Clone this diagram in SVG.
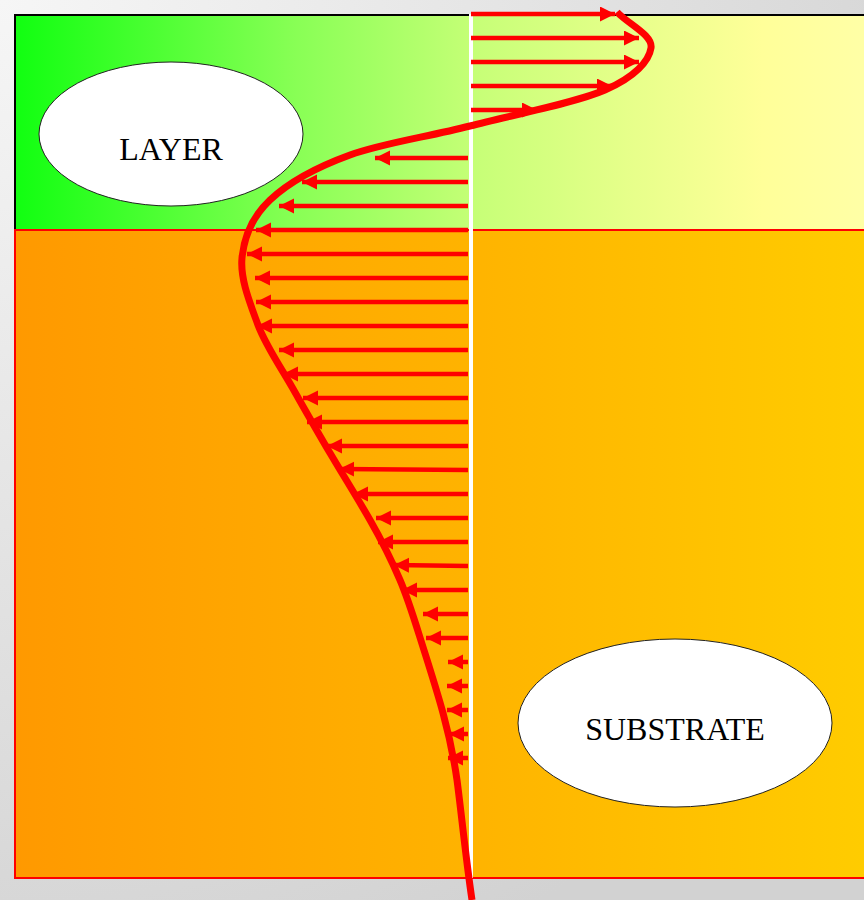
<svg xmlns="http://www.w3.org/2000/svg" width="864" height="900" viewBox="0 0 864 900">
<defs>
<radialGradient id="bg" gradientUnits="userSpaceOnUse" cx="0" cy="0" r="1050">
<stop offset="0" stop-color="#f6f6f6"/>
<stop offset="1" stop-color="#d2d2d2"/>
</radialGradient>
<linearGradient id="gLayer" gradientUnits="userSpaceOnUse" x1="15" y1="0" x2="864" y2="0">
<stop offset="0" stop-color="#11ff11"/>
<stop offset="0.33" stop-color="#88ff55"/>
<stop offset="0.55" stop-color="#c8ff78"/>
<stop offset="0.72" stop-color="#e6ff8a"/>
<stop offset="0.88" stop-color="#ffff99"/>
<stop offset="1" stop-color="#ffffa6"/>
</linearGradient>
<linearGradient id="gSub" gradientUnits="userSpaceOnUse" x1="15" y1="0" x2="864" y2="0">
<stop offset="0" stop-color="#ff9900"/>
<stop offset="0.55" stop-color="#ffb400"/>
<stop offset="1" stop-color="#ffcc00"/>
</linearGradient>
<marker id="ah" markerUnits="userSpaceOnUse" markerWidth="16" markerHeight="16" refX="15" refY="7.5" orient="auto" viewBox="0 0 16 16">
<path d="M0,0 L15,7.5 L0,15 Z" fill="#ff0000"/>
</marker>
<style>
.arr{stroke:#ff0000;stroke-width:4.5;fill:none;marker-end:url(#ah)}
.lbl{font-family:"Liberation Serif","Times New Roman",serif;font-size:32px;fill:#000;text-anchor:middle}
.ell{fill:#fff;stroke:#222;stroke-width:1}
</style>
</defs>
<rect x="0" y="0" width="864" height="900" fill="url(#bg)"/>
<g id="layer">
<rect x="15" y="15" width="870" height="215" fill="url(#gLayer)" stroke="#000" stroke-width="2"/>
</g>
<g id="substrate">
<rect x="15" y="230" width="870" height="648" fill="url(#gSub)" stroke="#ff0000" stroke-width="2"/>
</g>
<line x1="471" y1="14" x2="471" y2="878" stroke="#fff" stroke-width="4"/>
<g id="layer-label">
<ellipse class="ell" cx="171" cy="134" rx="132" ry="72"/>
<text class="lbl" x="171" y="160">LAYER</text>
</g>
<g id="substrate-label">
<ellipse class="ell" cx="675" cy="723" rx="157" ry="84"/>
<text class="lbl" x="675" y="740">SUBSTRATE</text>
</g>
<g id="connectors">
<line class="arr" x1="471" y1="14" x2="615" y2="14"/>
<line class="arr" x1="471" y1="38" x2="639" y2="38"/>
<line class="arr" x1="471" y1="62" x2="639" y2="62"/>
<line class="arr" x1="471" y1="86" x2="612" y2="86"/>
<line class="arr" x1="471" y1="110" x2="537" y2="110"/>
<line class="arr" x1="468" y1="158" x2="375" y2="158"/>
<line class="arr" x1="468" y1="182" x2="302" y2="182"/>
<line class="arr" x1="468" y1="206" x2="279" y2="206"/>
<line class="arr" x1="468" y1="230" x2="256" y2="230"/>
<line class="arr" x1="468" y1="254" x2="247" y2="254"/>
<line class="arr" x1="468" y1="278" x2="255" y2="278"/>
<line class="arr" x1="468" y1="302" x2="256" y2="302"/>
<line class="arr" x1="468" y1="326" x2="257" y2="326"/>
<line class="arr" x1="468" y1="350" x2="279" y2="350"/>
<line class="arr" x1="468" y1="374" x2="283" y2="374"/>
<line class="arr" x1="468" y1="398" x2="303" y2="398"/>
<line class="arr" x1="468" y1="422" x2="307" y2="422"/>
<line class="arr" x1="468" y1="446" x2="327" y2="446"/>
<line class="arr" x1="468" y1="470" x2="339" y2="469"/>
<line class="arr" x1="468" y1="494" x2="353" y2="494"/>
<line class="arr" x1="468" y1="518" x2="376" y2="518"/>
<line class="arr" x1="468" y1="542" x2="378" y2="542"/>
<line class="arr" x1="468" y1="566" x2="394" y2="565"/>
<line class="arr" x1="468" y1="590" x2="402" y2="590"/>
<line class="arr" x1="468" y1="614" x2="423" y2="614"/>
<line class="arr" x1="468" y1="638" x2="426" y2="638"/>
<line class="arr" x1="468" y1="662" x2="448" y2="662"/>
<line class="arr" x1="468" y1="686" x2="447" y2="686"/>
<line class="arr" x1="468" y1="710" x2="447" y2="710"/>
<line class="arr" x1="468" y1="734" x2="449" y2="734"/>
<line class="arr" x1="468" y1="758" x2="448" y2="758"/>
<path d="M617,12 C628,24 653,35 651,48 C649,61 635,77 605,90 C575,103 512,115 470,126 C427,137 383,143 350,155 C317,167 288,183 270,200 C252,217 244,237 242,258 C240,279 250,303 258,325 C266,346 280,366 292,387 C304,408 317,431 330,453 C343,475 358,499 370,520 C382,541 391,559 400,580 C409,601 416,625 423,647 C430,669 437,691 443,713 C449,735 453,752 457,780 C461,810 466,860 472,900" fill="none" stroke="#ff0000" stroke-width="7"/>
</g>
</svg>
